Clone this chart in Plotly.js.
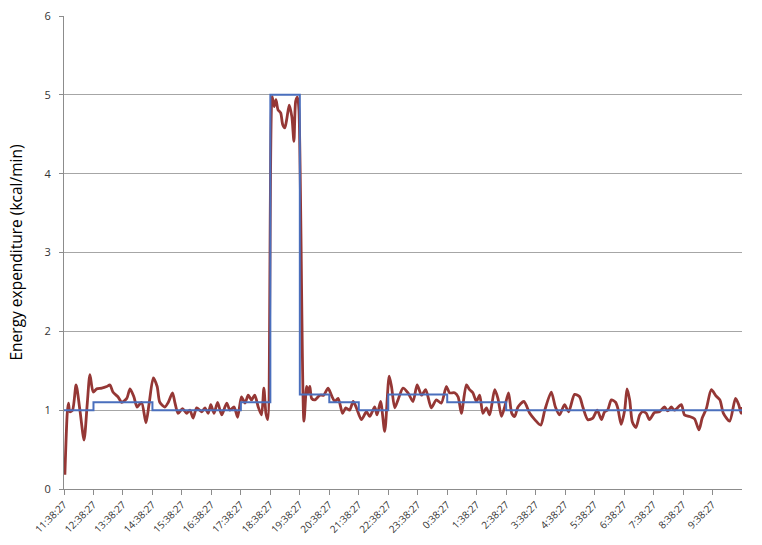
<!DOCTYPE html>
<html>
<head>
<meta charset="utf-8">
<script src="https://cdn.plot.ly/plotly-3.0.1.min.js"></script>
<style>
  html, body { margin: 0; padding: 0; background: #fff; }
  #chart { width: 762px; height: 545px; }
</style>
</head>
<body>
<div id="chart"></div>
<script>
// hours after 11:38:27 and measured energy expenditure (kcal/min)
const redHours = [
  0.03, 0.11, 0.15, 0.20, 0.29, 0.41, 0.54, 0.68, 0.79, 0.88,
  0.99, 1.11, 1.28, 1.45, 1.56, 1.66, 1.83, 1.96, 2.13, 2.24,
  2.37, 2.48, 2.63, 2.78, 2.89, 3.03, 3.16, 3.25, 3.42, 3.54,
  3.68, 3.76, 3.87, 4.02, 4.16, 4.27, 4.38, 4.50, 4.67, 4.78,
  4.89, 4.98, 5.09, 5.21, 5.35, 5.52, 5.63, 5.77, 5.89, 6.02,
  6.14, 6.25, 6.36, 6.47, 6.59, 6.70, 6.78, 6.85, 6.91, 7.06,
  7.13, 7.19, 7.26, 7.35, 7.42, 7.49, 7.56, 7.64, 7.73, 7.80,
  7.86, 7.92, 7.97, 8.14, 8.23, 8.28, 8.34, 8.40, 8.51, 8.68,
  8.81, 8.96, 9.07, 9.19, 9.30, 9.45, 9.56, 9.69, 9.81, 9.92,
  10.09, 10.26, 10.37, 10.54, 10.62, 10.74, 10.88, 11.03, 11.11, 11.22,
  11.33, 11.50, 11.67, 11.84, 11.98, 12.13, 12.27, 12.46, 12.63, 12.80,
  12.97, 13.08, 13.25, 13.37, 13.48, 13.65, 13.76, 13.87, 13.99, 14.10,
  14.21, 14.33, 14.44, 14.61, 14.72, 14.84, 14.95, 15.08, 15.19, 15.29,
  15.40, 15.60, 15.80, 15.97, 16.17, 16.31, 16.53, 16.67, 16.81, 16.98,
  17.12, 17.32, 17.49, 17.60, 17.77, 17.94, 18.09, 18.23, 18.34, 18.44,
  18.57, 18.71, 18.79, 18.90, 19.02, 19.10, 19.19, 19.28, 19.40, 19.53,
  19.62, 19.75, 19.86, 20.03, 20.20, 20.37, 20.48, 20.60, 20.71, 20.94,
  21.05, 21.22, 21.39, 21.54, 21.65, 21.79, 21.96, 22.12, 22.25, 22.37,
  22.58, 22.78, 22.89, 22.97, 23.00
];
const redKcal = [
  0.18, 0.96, 1.09, 0.98, 1.00, 1.32, 1.00, 0.62, 1.09, 1.45,
  1.23, 1.27, 1.28, 1.30, 1.32, 1.23, 1.17, 1.10, 1.15, 1.27,
  1.17, 1.04, 1.10, 0.84, 1.09, 1.41, 1.30, 1.10, 1.04, 1.10,
  1.22, 1.10, 0.96, 1.02, 0.96, 1.00, 0.90, 1.03, 0.98, 1.03,
  0.96, 1.07, 0.96, 1.10, 0.94, 1.09, 1.00, 1.04, 0.91, 1.17,
  1.09, 1.19, 1.13, 1.19, 1.04, 0.94, 1.28, 0.96, 0.88, 4.98,
  4.85, 4.94, 4.81, 4.77, 4.62, 4.58, 4.70, 4.87, 4.72, 4.41,
  4.92, 4.97, 4.81, 0.86, 1.30, 1.22, 1.30, 1.15, 1.13, 1.19,
  1.19, 1.28, 1.19, 1.11, 1.15, 0.96, 1.03, 1.00, 1.11, 1.03,
  0.88, 0.98, 0.92, 1.04, 0.94, 1.11, 0.73, 1.43, 1.30, 1.03,
  1.13, 1.28, 1.22, 1.11, 1.32, 1.19, 1.26, 1.03, 1.13, 1.09,
  1.30, 1.22, 1.22, 1.17, 0.96, 1.32, 1.26, 1.22, 1.11, 1.19,
  0.96, 1.03, 0.94, 1.26, 1.15, 0.92, 1.04, 1.22, 0.96, 0.92,
  1.04, 1.11, 0.96, 0.88, 0.81, 1.00, 1.23, 1.04, 0.94, 1.07,
  0.98, 1.20, 1.17, 1.04, 0.88, 0.90, 1.00, 0.88, 0.98, 1.00,
  1.13, 1.10, 1.02, 0.82, 1.00, 1.27, 1.13, 0.85, 0.78, 0.94,
  0.98, 0.96, 0.88, 0.97, 0.98, 1.04, 0.99, 1.04, 1.00, 1.07,
  0.94, 0.92, 0.89, 0.75, 0.90, 1.02, 1.26, 1.18, 1.13, 0.96,
  0.86, 1.15, 1.07, 0.96, 1.04
];

// step series: value holds from each hour mark to the next
const blueHours = [0, 1, 3, 6, 7, 8, 9, 10, 11, 13, 15, 23];
const blueKcal = [1.0, 1.1, 1.0, 1.1, 5.0, 1.2, 1.1, 1.0, 1.2, 1.1, 1.0, 1.0];

const tickHours = [0, 1, 2, 3, 4, 5, 6, 7, 8, 9, 10, 11, 12, 13, 14, 15, 16, 17, 18, 19, 20, 21, 22];
const tickLabels = [
  "11:38:27", "12:38:27", "13:38:27", "14:38:27", "15:38:27", "16:38:27",
  "17:38:27", "18:38:27", "19:38:27", "20:38:27", "21:38:27", "22:38:27",
  "23:38:27", "0:38:27", "1:38:27", "2:38:27", "3:38:27", "4:38:27",
  "5:38:27", "6:38:27", "7:38:27", "8:38:27", "9:38:27"
];

const traces = [
  {
    x: redHours,
    y: redKcal,
    type: "scatter",
    mode: "lines",
    line: { color: "#953735", width: 2.8, shape: "spline", smoothing: 0.7 },
    hoverinfo: "skip",
  },
  {
    x: blueHours,
    y: blueKcal,
    type: "scatter",
    mode: "lines",
    line: { color: "#4a6fbd", width: 2, shape: "hv" },
    hoverinfo: "skip",
  },
];

const layout = {
  width: 762,
  height: 545,
  paper_bgcolor: "#ffffff",
  plot_bgcolor: "#ffffff",
  showlegend: false,
  font: { family: '"Open Sans", "Liberation Sans", sans-serif', color: "#333333" },
  margin: { l: 64, r: 20, t: 16, b: 56 },
  xaxis: {
    range: [0, 23],
    tickvals: tickHours,
    ticktext: tickLabels,
    tickangle: -45,
    tickfont: { size: 10, color: "#333333" },
    ticks: "outside",
    ticklen: 5,
    tickcolor: "#8c8c8c",
    showgrid: false,
    zeroline: false,
    showline: true,
    linecolor: "#8c8c8c",
    linewidth: 1,
  },
  yaxis: {
    range: [0, 6],
    dtick: 1,
    tickfont: { size: 11, color: "#333333" },
    ticks: "outside",
    ticklen: 4,
    tickcolor: "#8c8c8c",
    ticklabelstandoff: 6,
    gridcolor: "#a6a6a6",
    gridwidth: 1,
    zeroline: false,
    showline: true,
    linecolor: "#8c8c8c",
    linewidth: 1,
    title: {
      text: "Energy expenditure (kcal/min)",
      font: { size: 15.5, color: "#000000" },
      standoff: 18,
    },
  },
};

Plotly.newPlot("chart", traces, layout, { displayModeBar: false, staticPlot: true });
</script>
</body>
</html>
